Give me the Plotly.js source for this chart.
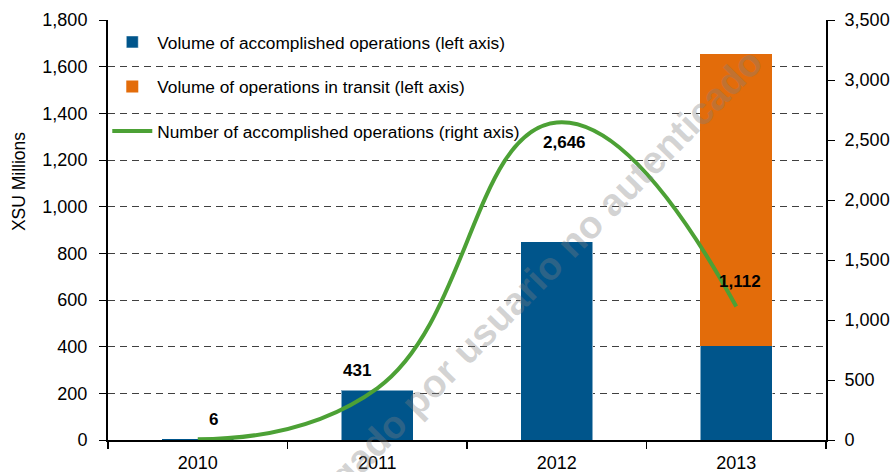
<!DOCTYPE html>
<html>
<head>
<meta charset="utf-8">
<script src="https://cdn.plot.ly/plotly-3.0.1.min.js"></script>
<style>html,body{margin:0;padding:0;background:#fff;}#chart{width:892px;height:472px;}</style>
</head>
<body>
<div id="chart"></div>
<script>
// ---- data ----
const years = ["2010", "2011", "2012", "2013"];
const volumeAccomplished = [5, 214, 850, 403];   // XSU millions, left axis
const volumeTransit = [0, 0, 0, 1251];           // XSU millions, left axis
const numberAccomplished = [6, 431, 2646, 1112]; // count, right axis
const countLabels = ["6", "431", "2,646", "1,112"];
const seriesNames = [
  "Volume of accomplished operations (left axis)",
  "Volume of operations in transit (left axis)",
  "Number of accomplished operations (right axis)"
];
const yTitle = "XSU Millions";
const watermark = "Documento descargado por usuario no autenticado";

// ---- style ----
const FONT = "Liberation Sans, Arial, sans-serif";
const BLUE = "#00558B", ORANGE = "#E36C0A", GREEN = "#4CA135";
const labelShiftX = [16, -20, 8, 4];
const labelShiftY = [20, 18, -20, 25];

const traces = [
  {type: "bar", x: years, y: volumeAccomplished, name: seriesNames[0],
   marker: {color: BLUE, line: {color: "rgba(255,255,255,0.5)", width: 1}},
   width: 0.4, legendgroup: "a", yaxis: "y", hoverinfo: "skip"},
  {type: "bar", x: years, y: volumeTransit, name: seriesNames[1],
   marker: {color: ORANGE, line: {width: 0}},
   width: 0.4, legendgroup: "b", yaxis: "y", hoverinfo: "skip"},
  {type: "scatter", mode: "lines", x: years, y: numberAccomplished, name: seriesNames[2],
   line: {color: GREEN, width: 4, shape: "spline", smoothing: 1.3},
   legendgroup: "c", yaxis: "y2", hoverinfo: "skip"}
];

const annotations = years.map((yr, i) => ({
  x: i, y: numberAccomplished[i], xref: "x", yref: "y2",
  xanchor: "center", yanchor: "middle",
  text: "<b>" + countLabels[i] + "</b>", showarrow: false,
  xshift: labelShiftX[i], yshift: labelShiftY[i],
  font: {family: FONT, size: 17, color: "#000"}
}));
annotations.push({
  xref: "paper", yref: "paper", x: 0.440, y: 0.114,
  xanchor: "center", yanchor: "middle",
  text: "<b>" + watermark + "</b>",
  showarrow: false, textangle: -45.5,
  font: {family: FONT, size: 38.5, color: "rgba(128,128,128,0.35)"}
});
annotations.push({
  xref: "paper", yref: "paper", x: 0, xshift: -89, y: 0.614,
  xanchor: "center", yanchor: "middle",
  text: yTitle, showarrow: false, textangle: -90,
  font: {family: FONT, size: 17.5, color: "#000"}
});

const layout = {
  width: 892, height: 472,
  margin: {l: 108, r: 66, t: 20, b: 32},
  paper_bgcolor: "#fff", plot_bgcolor: "#fff",
  barmode: "stack",
  font: {family: FONT, size: 18, color: "#000"},
  showlegend: true,
  legend: {x: -0.001, y: 0.99, xanchor: "left", yanchor: "top",
           bgcolor: "rgba(0,0,0,0)", traceorder: "grouped", tracegroupgap: 19,
           font: {family: FONT, size: 17.3, color: "#000"}, itemwidth: 40},
  xaxis: {type: "category", tickson: "boundaries", ticks: "outside", ticklen: 7,
          tickcolor: "#000", tickwidth: 1.5, showline: true, linecolor: "#000", linewidth: 2,
          showgrid: false, range: [-0.5, 3.5], ticklabelstandoff: 5},
  yaxis: {range: [0, 1800], dtick: 200, tickformat: ",", showgrid: true,
          gridcolor: "#404040", gridwidth: 1, griddash: "7px,5px",
          showline: true, linecolor: "#000", linewidth: 2, ticks: "outside", ticklen: 7,
          tickcolor: "#000", zeroline: false, ticklabelstandoff: 8},
  yaxis2: {range: [0, 3500], dtick: 500, tickformat: ",", overlaying: "y", side: "right",
           showgrid: false, showline: true, linecolor: "#000", linewidth: 2,
           ticks: "outside", ticklen: 7, tickcolor: "#000", zeroline: false, ticklabelstandoff: 6},
  annotations: annotations
};

Plotly.newPlot("chart", traces, layout, {staticPlot: true, displayModeBar: false});
</script>
</body>
</html>
